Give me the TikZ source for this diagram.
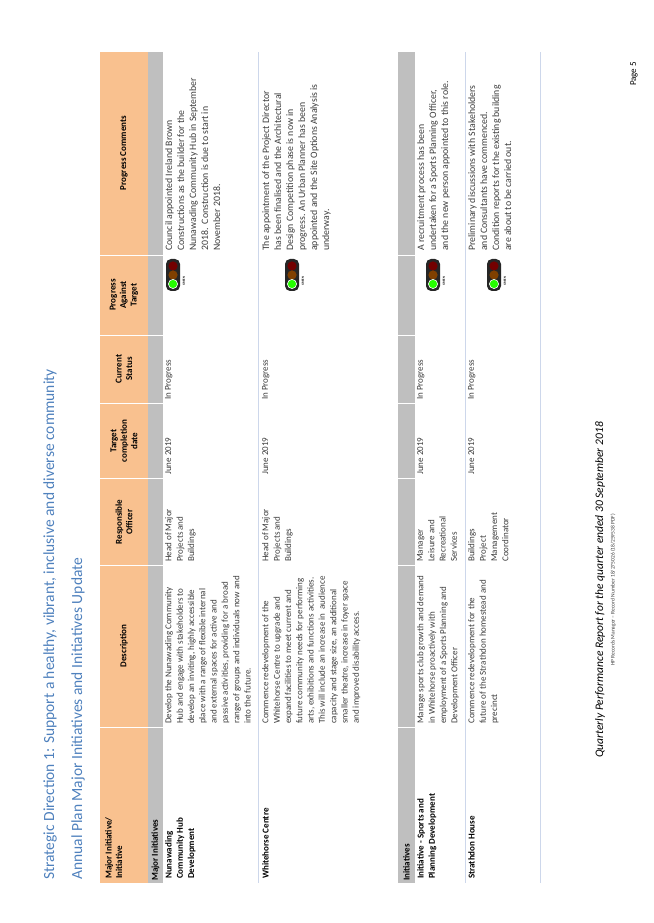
\documentclass[tikz,border=0pt]{standalone}
\usepackage{fontspec}
\setmainfont{Carlito}
\definecolor{hdrorange}{RGB}{249,193,143}
\definecolor{bandgray}{RGB}{191,191,191}
\definecolor{titleblue}{RGB}{79,129,189}
\definecolor{txtgray}{RGB}{60,60,60}
\definecolor{rulegray}{RGB}{205,215,235}
\tikzset{
  cell/.style={rotate=90, anchor=north west, align=left, inner sep=2pt,
    font=\fontsize{9}{11.3}\selectfont, text=txtgray},
  note/.style={cell, font=\fontsize{9.8}{12}\selectfont},
  namecell/.style={cell, font=\bfseries\fontsize{9}{11.3}\selectfont, text=black},
  head/.style={rotate=90, anchor=center, align=center, inner sep=1pt,
    font=\bfseries\fontsize{9}{10.5}\selectfont},
  band/.style={rotate=90, anchor=west, inner sep=2pt,
    font=\bfseries\fontsize{9}{10}\selectfont},
  lightbox/.style={fill=black!85, rounded corners=5pt},
}
\newcommand{\trafficlight}[2]{%
  \fill[lightbox] (#1-7,#2-16) rectangle (#1+7,#2+16);
  \fill[red!45!black] (#1,#2+9) circle (4.6);
  \fill[orange!50!black] (#1,#2) circle (4.6);
  \fill[green!80!lime, draw=white, line width=0.6pt] (#1,#2-9) circle (4.6);
  \node[rotate=90, font=\bfseries\fontsize{3}{3}\selectfont] at (#1+11,#2-6) {GREEN};
}
\begin{document}
\begin{tikzpicture}[x=1pt,y=1pt]
    \useasboundingbox (0,0) rectangle (653,923);
    % titles
    \node[rotate=90, anchor=south west, inner sep=0, text=titleblue,
      font=\fontsize{15.5}{16}\selectfont] (title) at (57,43)
      {Strategic Direction 1: Support a healthy, vibrant, inclusive and diverse community};
    \node[rotate=90, anchor=south west, inner sep=0, text=titleblue,
      font=\fontsize{15.5}{16}\selectfont] (subtitle) at (85,43)
      {Annual Plan Major Initiatives and Initiatives Update};
    % header and bands
    \fill[hdrorange] (100,40) rectangle (148,871);
    \fill[bandgray] (148,40) rectangle (163,871);
    \fill[bandgray] (398,40) rectangle (415,871);
    \foreach \y in {196,358,445,520,588,668} {
      \draw[white, line width=0.8pt] (100,\y) -- (163,\y);
      \draw[white, line width=0.8pt] (398,\y) -- (415,\y);
    }
    \foreach \x in {258,465,540} \draw[rulegray, line width=0.5pt] (\x,40) -- (\x,871);
    \node[rotate=90, anchor=north west, align=left, inner sep=2pt,
      font=\bfseries\fontsize{9}{10.5}\selectfont] (h1) at (103,42) {Major Initiative/\\Initiative};
    \node[head] (h2) at (124,277) {Description};
    \node[head] (h3) at (124,401) {Responsible\\Officer};
    \node[head] (h4) at (124,482) {Target\\completion\\date};
    \node[head] (h5) at (124,554) {Current\\Status};
    \node[head] (h6) at (124,628) {Progress\\Against\\Target};
    \node[head] (h7) at (124,770) {Progress Comments};
    \node[band] (b1) at (155.5,40) {Major Initiatives};
    \node[band] (b2) at (406.5,40) {Initiatives};
    % row 1
    \node[namecell] (r1c1) at (163,42) {Nunawading\\Community Hub\\Development};
    \node[cell] (r1c2) at (163,197)
      {Develop the Nunawading Community\\Hub and engage with stakeholders to\\develop an inviting, highly accessible\\place with a range of flexible internal\\and external spaces for active and\\passive activities, providing for a broad\\range of groups and individuals now and\\into the future.};
    \node[cell] (r1c3) at (163,359) {Head of Major\\Projects and\\Buildings};
    \node[cell] (r1c4) at (163,446) {June 2019};
    \node[cell] (r1c5) at (163,521) {In Progress};
    \node[note] (r1c7) at (163,670)
      {Council appointed Ireland Brown\\Constructions as the builder for the\\Nunawading Community Hub in September\\2018.\ \ Construction is due to start in\\November 2018.};
    \trafficlight{173}{648}
    % row 2
    \node[namecell] (r2c1) at (260,42) {Whitehorse Centre};
    \node[cell] (r2c2) at (260,197)
      {Commence redevelopment of the\\Whitehorse Centre to upgrade and\\expand facilities to meet current and\\future community needs for performing\\arts, exhibitions and functions activities.\\This will include an increase in\ \ audience\\capacity and stage size, an additional\\smaller theatre, increase in foyer space\\and improved disability access.};
    \node[cell] (r2c3) at (260,359) {Head of Major\\Projects and\\Buildings};
    \node[cell] (r2c4) at (260,446) {June 2019};
    \node[cell] (r2c5) at (260,521) {In Progress};
    \node[note] (r2c7) at (260,670)
      {The appointment of the Project Director\\has been finalised and the Architectural\\Design Competition phase is now in\\progress. An Urban Planner has been\\appointed and the Site Options Analysis is\\underway.};
    \trafficlight{292}{648}
    % row 3
    \node[namecell] (r3c1) at (415,42) {Initiative - Sports and\\Planning Development};
    \node[cell] (r3c2) at (415,197)
      {Manage sports club growth and demand\\in Whitehorse proactively with\\employment of a Sports Planning and\\Development Officer};
    \node[cell] (r3c3) at (415,359) {Manager\\Leisure and\\Recreational\\Services};
    \node[cell] (r3c4) at (415,446) {June 2019};
    \node[cell] (r3c5) at (415,521) {In Progress};
    \node[note] (r3c7) at (415,670)
      {A recruitment process has been\\undertaken for a Sports Planning Officer,\\and the new person appointed to this role.};
    \trafficlight{433}{648}
    % row 4
    \node[namecell] (r4c1) at (466,42) {Strathdon House};
    \node[cell] (r4c2) at (466,197)
      {Commence redevelopment for the\\future of the Strathdon homestead and\\precinct};
    \node[cell] (r4c3) at (466,359) {Buildings\\Project\\Management\\Coordinator};
    \node[cell] (r4c4) at (466,446) {June 2019};
    \node[cell] (r4c5) at (466,521) {In Progress};
    \node[note] (r4c7) at (466,670)
      {Preliminary discussions with Stakeholders\\and Consultants have commenced.\\Condition reports for the existing building\\are about to be carried out.};
    \trafficlight{494}{648}
    % footer
    \node[rotate=90, inner sep=0, font=\itshape\fontsize{11.5}{12}\selectfont] (foot) at (600,333)
      {Quarterly Performance Report for the quarter ended 30 September 2018};
    \node[rotate=90, inner sep=0, text=txtgray, font=\fontsize{5.5}{6}\selectfont] (rec) at (613,333)
      {HP Records Manager -- Record Number 18/275026 (18/259538 PDF)};
    \node[rotate=90, inner sep=0, font=\fontsize{9}{9}\selectfont] (page) at (634,849) {Page 5};
\end{tikzpicture}
\end{document}
